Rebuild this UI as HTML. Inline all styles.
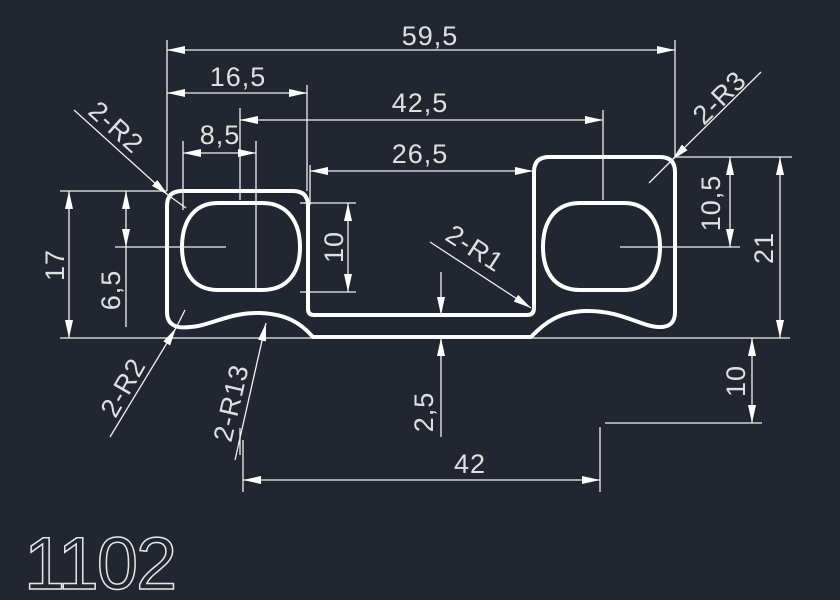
<!DOCTYPE html>
<html><head><meta charset="utf-8"><style>
html,body{margin:0;padding:0;background:#212630;}
svg{display:block}
text{font-family:"Liberation Sans",sans-serif;fill:#e0e0e0;font-size:27px;letter-spacing:1px}
</style></head><body>
<svg width="840" height="600" viewBox="0 0 840 600" xmlns="http://www.w3.org/2000/svg">
<defs>
<marker id="a" viewBox="0 0 18 8" refX="18" refY="4" markerWidth="18" markerHeight="8" markerUnits="userSpaceOnUse" orient="auto-start-reverse">
<path d="M0,0 L18,4 L0,8 z" fill="#fff"/></marker>
</defs>
<rect width="840" height="600" fill="#212630"/>
<g fill="none" stroke="#fff" stroke-width="4" stroke-linejoin="round">
<path d="M182,191 L293,191 Q308,191 308,206 L308,309 Q308,315 314,315 L527,315 Q534,315 534,308 L534,172 Q534,157 549,157 L660,157 Q675,157 675,172 L675,312 Q675,328 658,327 C640,326 620,310 585,311 C560,312 545,322 531,337 L313,337 C300,322 285,314 260,313 C230,312 210,326 190,327 Q167,330 167,312 L167,206 Q167,191 182,191 Z"/>
<path d="M218,203 L262,203 C290,203 300,225 300,247 C300,272 288,290 262,290 L218,290 C192,290 182,270 182,247 C182,224 192,203 218,203 Z"/>
<path d="M580,203 L624,203 C650,203 660,225 660,247 C660,272 648,290 624,290 L580,290 C553,290 543,270 543,247 C543,224 553,203 580,203 Z"/>
</g>
<g stroke="#f0f0f0" stroke-width="1.3" fill="none">
<line x1="167" y1="40" x2="167" y2="191"/><line x1="675" y1="40" x2="675" y2="157"/>
<line x1="307" y1="85" x2="307" y2="191"/><line x1="310" y1="165" x2="310" y2="205"/>
<line x1="240" y1="108" x2="240" y2="200"/><line x1="603" y1="110" x2="603" y2="200"/>
<line x1="183" y1="141" x2="183" y2="210"/><line x1="256" y1="141" x2="256" y2="290"/>
<line x1="60" y1="191" x2="167" y2="191"/><line x1="60" y1="338" x2="790" y2="338"/>
<line x1="115" y1="247" x2="226" y2="247"/><line x1="620" y1="247" x2="740" y2="247"/>
<line x1="675" y1="157" x2="792" y2="157"/>
<line x1="300" y1="203" x2="356" y2="203"/><line x1="300" y1="292" x2="356" y2="292"/>
<line x1="126" y1="247" x2="126" y2="327"/>
<line x1="605" y1="423" x2="762" y2="423"/><line x1="600" y1="427" x2="600" y2="492"/>
<line x1="243" y1="440" x2="243" y2="492"/>
<line x1="167" y1="50" x2="675" y2="50" marker-start="url(#a)" marker-end="url(#a)"/>
<line x1="167" y1="93" x2="307" y2="93" marker-start="url(#a)" marker-end="url(#a)"/>
<line x1="240" y1="120" x2="603" y2="120" marker-start="url(#a)" marker-end="url(#a)"/>
<line x1="183" y1="153" x2="256" y2="153" marker-start="url(#a)" marker-end="url(#a)"/>
<line x1="310" y1="171" x2="533" y2="171" marker-start="url(#a)" marker-end="url(#a)"/>
<line x1="348" y1="203" x2="348" y2="292" marker-start="url(#a)" marker-end="url(#a)"/>
<line x1="69" y1="191" x2="69" y2="338" marker-start="url(#a)" marker-end="url(#a)"/>
<line x1="126" y1="191" x2="126" y2="247" marker-start="url(#a)" marker-end="url(#a)"/>
<line x1="730" y1="157" x2="730" y2="247" marker-start="url(#a)" marker-end="url(#a)"/>
<line x1="780" y1="157" x2="780" y2="338" marker-start="url(#a)" marker-end="url(#a)"/>
<line x1="752" y1="338" x2="752" y2="423" marker-start="url(#a)" marker-end="url(#a)"/>
<line x1="243" y1="480" x2="600" y2="480" marker-start="url(#a)" marker-end="url(#a)"/>
<line x1="441" y1="272" x2="441" y2="315" marker-end="url(#a)"/>
<line x1="441" y1="437" x2="441" y2="338" marker-end="url(#a)"/>
<line x1="74" y1="110" x2="168" y2="195" marker-end="url(#a)"/>
<line x1="168" y1="195" x2="186" y2="208"/>
<line x1="110" y1="437" x2="176" y2="328" marker-end="url(#a)"/>
<line x1="176" y1="328" x2="185" y2="310"/>
<line x1="235" y1="460" x2="266" y2="323" marker-end="url(#a)"/>
<line x1="430" y1="242" x2="531" y2="308" marker-end="url(#a)"/>
<line x1="761" y1="72" x2="672" y2="160" marker-end="url(#a)"/>
<line x1="672" y1="160" x2="649" y2="183"/>
<line x1="240" y1="428" x2="240" y2="455"/>
</g>
<text x="430" y="45" text-anchor="middle">59,5</text>
<text x="238" y="86" text-anchor="middle">16,5</text>
<text x="420" y="112" text-anchor="middle">42,5</text>
<text x="220" y="144" text-anchor="middle">8,5</text>
<text x="420" y="163" text-anchor="middle">26,5</text>
<text x="470" y="473" text-anchor="middle">42</text>
<text transform="translate(343,247) rotate(-90)" text-anchor="middle">10</text>
<text transform="translate(64,265) rotate(-90)" text-anchor="middle">17</text>
<text transform="translate(120,290) rotate(-90)" text-anchor="middle">6,5</text>
<text transform="translate(720,203) rotate(-90)" text-anchor="middle">10,5</text>
<text transform="translate(773,248) rotate(-90)" text-anchor="middle">21</text>
<text transform="translate(745,381) rotate(-90)" text-anchor="middle">10</text>
<text transform="translate(433,412) rotate(-90)" text-anchor="middle">2,5</text>
<text transform="translate(110,134) rotate(42)" text-anchor="middle">2-R2</text>
<text transform="translate(131,392) rotate(-60)" text-anchor="middle">2-R2</text>
<text transform="translate(240,405) rotate(-77)" text-anchor="middle">2-R13</text>
<text transform="translate(470,256) rotate(33)" text-anchor="middle">2-R1</text>
<text transform="translate(726,104) rotate(-45)" text-anchor="middle">2-R3</text>
<text x="24" y="589" style="font-size:74px;letter-spacing:-2px;fill:none;stroke:#e6e6e6;stroke-width:1.5">1102</text>
</svg>
</body></html>
